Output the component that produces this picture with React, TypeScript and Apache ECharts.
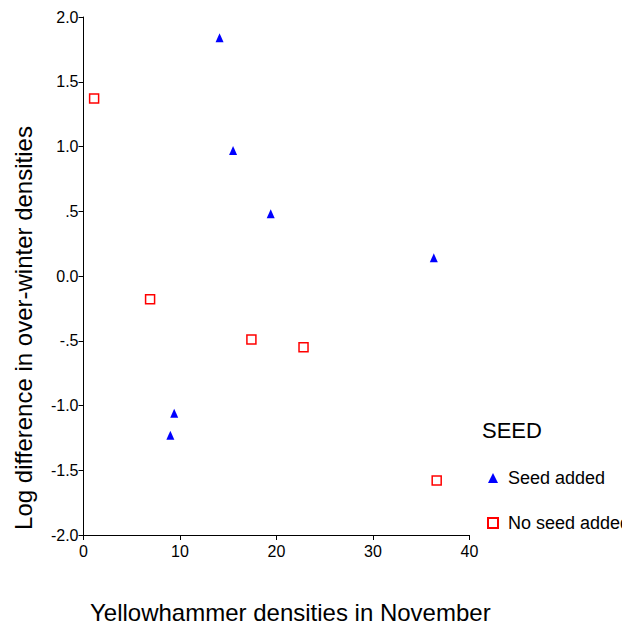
import React, { useEffect, useRef } from "react";
import * as echarts from "echarts";

// Yellowhammer densities in November (x) vs. log difference in over-winter densities (y)
const seedAddedX = [14.1, 15.5, 19.4, 36.3, 9.4, 9.0];
const seedAddedY = [1.84, 0.97, 0.48, 0.14, -1.06, -1.23];
const noSeedX = [1.1, 6.9, 17.4, 22.8, 36.6];
const noSeedY = [1.37, -0.18, -0.49, -0.55, -1.58];

const seriesNames = ["Seed added", "No seed added"];
const legendTitle = "SEED";
const xTitle = "Yellowhammer densities in November";
const yTitle = "Log difference in over-winter densities";

const FONT = "'Liberation Sans', Arial, Helvetica, sans-serif";

const fmtY = (v: number) => {
  if (v === 0) return "0.0";
  if (Math.abs(v) === 0.5) return v < 0 ? "-.5" : ".5";
  return v.toFixed(1);
};

export default function App() {
  const ref = useRef<HTMLDivElement>(null);

  useEffect(() => {
    if (!ref.current) return;
    const chart = echarts.init(ref.current, undefined, { renderer: "svg" });
    const toPairs = (xs: number[], ys: number[]) => xs.map((x, i) => [x, ys[i]]);

    chart.setOption({
      animation: false,
      backgroundColor: "#ffffff",
      textStyle: { fontFamily: FONT },
      grid: { left: 83.5, right: 152.5, top: 17, bottom: 90, containLabel: false },
      xAxis: {
        type: "value",
        min: 0,
        max: 40,
        interval: 10,
        axisLine: { show: true, onZero: false, lineStyle: { color: "#000", width: 1 } },
        axisTick: { show: true, length: 5, lineStyle: { color: "#000" } },
        axisLabel: { color: "#000", fontSize: 16, margin: 8, fontFamily: FONT },
        splitLine: { show: false },
      },
      yAxis: {
        type: "value",
        min: -2,
        max: 2,
        interval: 0.5,
        axisLine: { show: true, onZero: false, lineStyle: { color: "#000", width: 1 } },
        axisTick: { show: true, length: 5, lineStyle: { color: "#000" } },
        axisLabel: { color: "#000", fontSize: 16, margin: 5, fontFamily: FONT, formatter: fmtY },
        splitLine: { show: false },
      },
      legend: {
        orient: "vertical",
        left: 482,
        top: 463,
        padding: 5,
        itemWidth: 10,
        itemHeight: 10,
        itemGap: 25,
        textStyle: { color: "#000", fontSize: 18, fontFamily: FONT, lineHeight: 20, padding: [0, 0, 0, 5] },
        data: [
          { name: seriesNames[0], icon: "triangle" },
          { name: seriesNames[1], icon: "rect" },
        ],
      },
      graphic: [
        {
          type: "text",
          x: 482,
          y: 430,
          style: { text: legendTitle, fill: "#000", font: `22px ${FONT}`, verticalAlign: "middle" },
        },
        {
          type: "text",
          x: 90,
          y: 612,
          style: { text: xTitle, fill: "#000", font: `24px ${FONT}`, verticalAlign: "middle" },
        },
        {
          type: "text",
          x: 23,
          y: 328,
          rotation: Math.PI / 2,
          style: {
            text: yTitle,
            fill: "#000",
            font: `24px ${FONT}`,
            align: "center",
            verticalAlign: "middle",
          },
        },
      ],
      series: [
        {
          name: seriesNames[0],
          type: "scatter",
          symbol: "triangle",
          symbolSize: [8, 9],
          itemStyle: { color: "#0000ff", opacity: 1 },
          data: toPairs(seedAddedX, seedAddedY),
        },
        {
          name: seriesNames[1],
          type: "scatter",
          symbol: "rect",
          symbolSize: 9,
          itemStyle: { color: "#ffffff", borderColor: "#ff0000", borderWidth: 1.5, opacity: 1 },
          data: toPairs(noSeedX, noSeedY),
        },
      ],
    });

    return () => chart.dispose();
  }, []);

  return (
    <div
      ref={ref}
      style={{ position: "fixed", left: 0, top: 0, width: 622, height: 625, background: "#fff" }}
    />
  );
}
